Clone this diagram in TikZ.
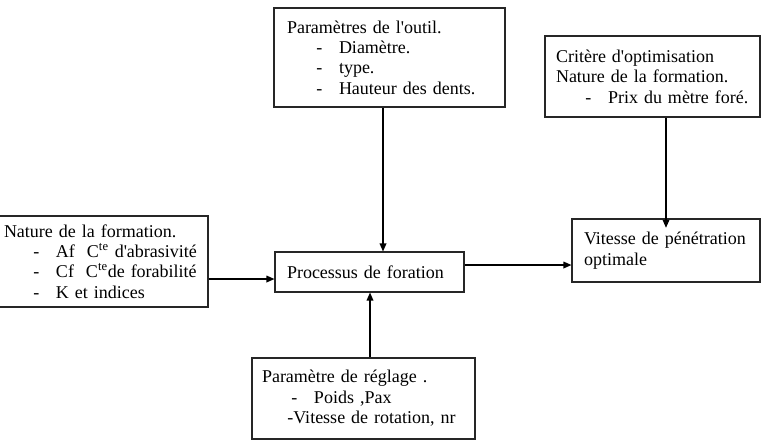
\documentclass[tikz,border=0pt]{standalone}
\usepackage{fontspec}
\setmainfont{Liberation Serif}[Ligatures=TeXOff]
\usetikzlibrary{arrows.meta,positioning,calc}
\tikzset{
  >={Triangle[length=6pt,width=5pt]},
  bloc/.style={draw=black!85,line width=0.8pt,fill=white,align=left,inner ysep=0pt,
    font=\fontsize{13.5}{15.3}\selectfont},
  fl/.style={->,line width=0.9pt,draw=black},
}
\newcommand{\tiret}{\hspace*{22pt}\makebox[17pt][l]{-}}
\newcommand{\cte}{C\textsuperscript{te}}

\begin{document}
\begin{tikzpicture}[x=0.75pt,y=-0.75pt]
  \useasboundingbox (0,0) rectangle (767,444);
  \node[bloc,minimum width=156.75pt,minimum height=68.25pt,inner xsep=3.75pt,text width=149.25pt] (nat) at (103.5,261.5)
    {Nature de la formation.\\
     \tiret Af\ \ \cte\ d'abrasivité\\
     \tiret Cf\ \ \cte de forabilité\\
     \tiret K et indices};
  \node[bloc,minimum width=141.75pt,minimum height=30pt,inner xsep=9pt,text width=123.75pt] (proc) at (369.5,272)
    {Processus de foration};
  \node[bloc,minimum width=173.25pt,minimum height=74.25pt,inner xsep=9.75pt,text width=153.75pt] (outil) at (389.5,57.5)
    {Paramètres de l'outil.\\
     \tiret Diamètre.\\
     \tiret type.\\
     \tiret Hauteur des dents.};
  \node[bloc,minimum width=161.25pt,minimum height=60.75pt,inner xsep=8.25pt,text width=144.75pt] (crit) at (652.5,76.5)
    {Critère d'optimisation\\
     Nature de la formation.\\
     \tiret Prix du mètre foré.};
  \node[bloc,minimum width=141pt,minimum height=47.25pt,inner xsep=9pt,text width=123pt] (vit) at (666,250.5)
    {Vitesse de pénétration\\
     optimale};
  \node[bloc,minimum width=167.25pt,minimum height=60.75pt,inner xsep=7.5pt,text width=152.25pt] (regl) at (363.5,398.5)
    {Paramètre de réglage .\\
     \tiret Poids ,Pax\\
     \hspace*{19pt}-Vitesse de rotation, nr};
  \draw[fl] (nat.east |- 0,279) -- (proc.west |- 0,279);
  \draw[fl] (outil.south -| 383,0) -- (proc.north -| 383,0);
  \draw[fl] (regl.north -| 370,0) -- (proc.south -| 370,0);
  \draw[fl] (proc.east |- 0,265) -- (vit.west |- 0,265);
  \draw[fl] (crit.south -| vit.north) -- ([yshift=-7pt]vit.north);
\end{tikzpicture}
\end{document}
